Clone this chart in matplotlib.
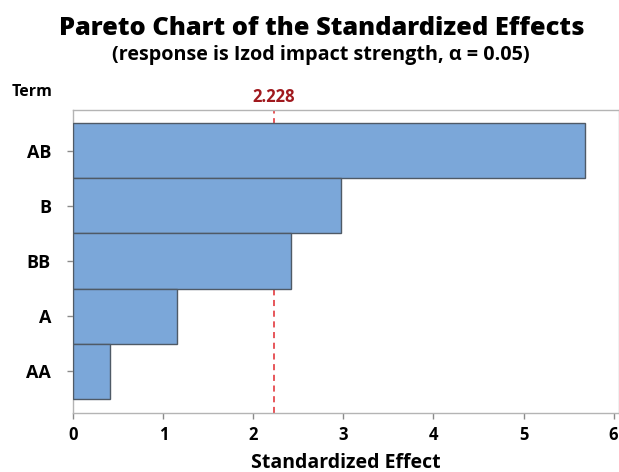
import matplotlib
matplotlib.use("Agg")
import matplotlib.pyplot as plt
import matplotlib.transforms as mtransforms

# standardized effects, largest first
terms = ["AB", "B", "BB", "A", "AA"]
effects = [5.68, 2.97, 2.42, 1.15, 0.41]
t_crit = 2.228
xticks = [0, 1, 2, 3, 4, 5, 6]

plt.rcParams["font.family"] = ["Open Sans", "DejaVu Sans"]
plt.rcParams["font.weight"] = "bold"

fig = plt.figure(figsize=(6.19, 4.72), dpi=100)
ax = fig.add_axes([0.1184, 0.126, 0.8816, 0.642])

ax.barh(range(len(terms)), effects, height=1.0, color="#7ba7d9",
        edgecolor="#4f5a66", linewidth=1.0, zorder=3)
# reference line sits behind the bars
ax.axvline(t_crit, color="#e0282e", linestyle=(0, (4, 3)), linewidth=1.1,
           zorder=2)

ax.set_xlim(0, 6.06)
ax.set_ylim(4.75, -0.75)
ax.set_yticks(range(len(terms)))
ax.set_yticklabels(terms)
ax.set_xticks(xticks)

for s in ax.spines.values():
    s.set_color("#b4b4b4")
    s.set_linewidth(1.0)
ax.tick_params(axis="both", colors="#8a8a8a", labelcolor="black",
               length=4, width=1.0, labelsize=12)
ax.tick_params(axis="y", pad=12, labelsize=13)
ax.tick_params(axis="x", pad=6)

ax.set_xlabel("Standardized Effect", fontsize=14, fontweight="bold",
              labelpad=6)

# critical value label above the plot area
trans = mtransforms.blended_transform_factory(ax.transData, ax.transAxes)
ax.text(t_crit, 1.01, f"{t_crit:.3f}", transform=trans, ha="center",
        va="bottom", color="#a0191e", fontsize=12, fontweight="bold")

fig.text(0.019, 0.789, "Term", fontsize=11.5, fontweight="bold",
         ha="left", va="bottom")

fig.text(0.519, 0.926, "Pareto Chart of the Standardized Effects",
         fontsize=18.3, fontweight="heavy", ha="center", va="baseline")
fig.text(0.519, 0.872, "(response is Izod impact strength, \u03b1 = 0.05)",
         fontsize=14.2, fontweight="bold", ha="center", va="baseline")

fig.savefig("out.png", dpi=100)
